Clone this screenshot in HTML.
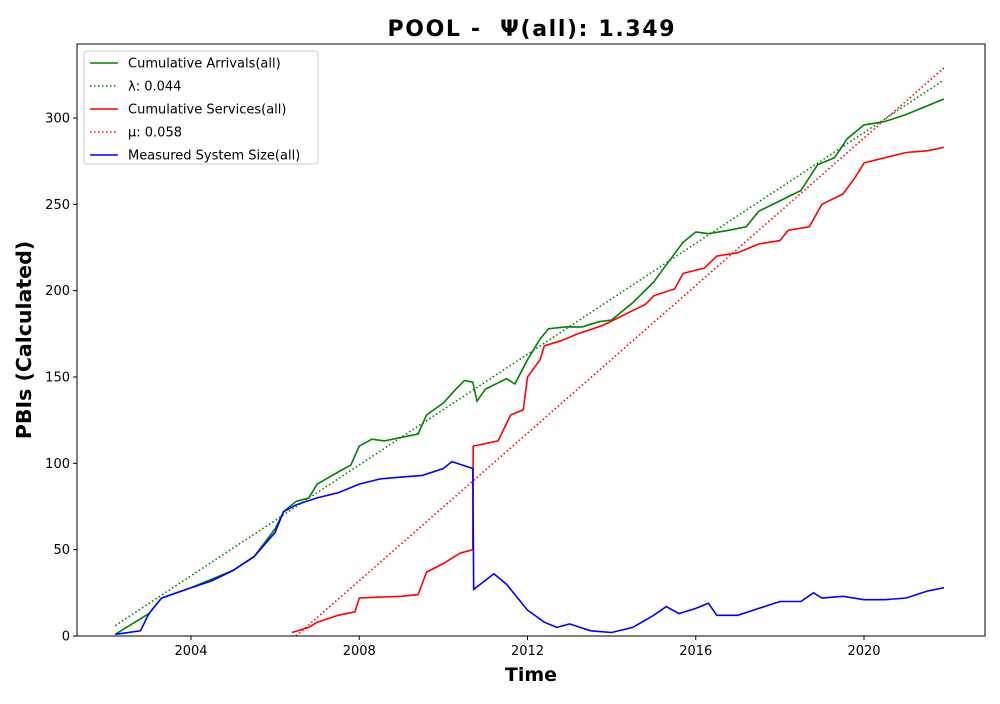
<!DOCTYPE html>
<html><head><meta charset="utf-8"><style>
body{margin:0;background:#fff;font-family:"DejaVu Sans","Liberation Sans",sans-serif}
</style></head><body>
<svg id="chart" width="1000" height="700" xmlns="http://www.w3.org/2000/svg" font-family="DejaVu Sans, Liberation Sans, sans-serif"></svg>
<script>
const arrYears=[2002.2,2003,2003.3,2004,2005,2005.5,2006,2006.2,2006.5,2006.8,2007,2007.5,2007.8,2008,2008.3,2008.6,2009,2009.4,2009.6,2010,2010.3,2010.5,2010.7,2010.8,2011,2011.5,2011.7,2012,2012.3,2012.5,2012.9,2013.3,2013.7,2014,2014.5,2015,2015.3,2015.7,2016,2016.3,2016.8,2017.2,2017.5,2018,2018.5,2018.9,2019.3,2019.6,2020,2020.5,2021,2021.5,2021.9];
const arrVals=[1,13,22,28,38,46,62,72,78,80,88,95,99,110,114,113,115,117,128,135,143,148,147,136,143,149,146,160,172,178,179,179,182,183,193,205,215,228,234,233,235,237,246,252,258,273,277,288,296,298,302,307,311];
const srvYears=[2006.4,2006.8,2007,2007.5,2007.9,2008,2009,2009.4,2009.6,2010,2010.4,2010.7,2010.71,2011.3,2011.6,2011.9,2012,2012.3,2012.4,2012.8,2013.2,2013.8,2014.3,2014.8,2015,2015.5,2015.7,2016.2,2016.5,2017,2017.5,2018,2018.2,2018.7,2019,2019.5,2019.8,2020,2020.5,2021,2021.5,2021.9];
const srvVals=[2,5,8,12,14,22,23,24,37,42,48,50,110,113,128,131,150,160,168,171,175,180,186,192,197,201,210,213,220,222,227,229,235,237,250,256,266,274,277,280,281,283];
const sysYears=[2002.2,2002.8,2003,2003.3,2004,2004.5,2005,2005.5,2006,2006.2,2006.5,2007,2007.5,2008,2008.5,2009,2009.5,2010,2010.2,2010.7,2010.72,2011.2,2011.5,2012,2012.4,2012.7,2013,2013.5,2014,2014.5,2015,2015.3,2015.6,2016,2016.3,2016.5,2017,2017.5,2018,2018.5,2018.8,2019,2019.5,2020,2020.5,2021,2021.5,2021.9];
const sysVals=[1,3,13,22,28,32,38,46,60,72,76,80,83,88,91,92,93,97,101,97,27,36,30,15,8,5,7,3,2,5,12,17,13,16,19,12,12,16,20,20,25,22,23,21,21,22,26,28];
const lambdaYears=[2002.2,2021.9];const lambdaVals=[6,322];
const muYears=[2006.5,2021.9];const muVals=[0,329];
const xTicks=[2004,2008,2012,2016,2020];
const yTicks=[0,50,100,150,200,250,300];
const L=77,R=985,T=44,B=636;
const X=v=>191+(v-2004)*42.0625;
const Y=v=>636-v*1.72667;
const svg=document.getElementById('chart');const NS='http://www.w3.org/2000/svg';
function add(tag,attrs,text){const e=document.createElementNS(NS,tag);for(const k in attrs)e.setAttribute(k,attrs[k]);if(text!==undefined)e.textContent=text;svg.appendChild(e);return e;}
function line(xs,ys,color,dash,name){const d=xs.map((x,i)=>(i?'L':'M')+X(x).toFixed(1)+','+Y(ys[i]).toFixed(1)).join('');const p=add('path',{d:d,fill:'none',stroke:color,'stroke-width':1.6});if(dash)p.setAttribute('stroke-dasharray','1.5,2.5');

}
let t=add('text',{x:531,y:36,'text-anchor':'middle','font-size':22,'font-weight':'bold','xml:space':'preserve'},'POOL -  Ψ(all): 1.349');
t.setAttribute('style','white-space:pre');
t.setAttribute('textLength','287');


line(lambdaYears,lambdaVals,'green',true,'lambda-line');
line(muYears,muVals,'red',true,'mu-line');
line(arrYears,arrVals,'green',false,'cumulative-arrivals-line');
line(srvYears,srvVals,'red',false,'cumulative-services-line');
line(sysYears,sysVals,'blue',false,'system-size-line');
let fr=add('rect',{x:L,y:T,width:R-L,height:B-T,fill:'none',stroke:'#000','stroke-width':1});


xTicks.forEach(v=>{add('line',{x1:X(v),x2:X(v),y1:B,y2:B+4,stroke:'#000'});const e=add('text',{x:X(v),y:B+19,'text-anchor':'middle','font-size':13},v);

});
yTicks.forEach(v=>{add('line',{x1:L-4,x2:L,y1:Y(v),y2:Y(v),stroke:'#000'});const e=add('text',{x:L-7,y:Y(v)+4.5,'text-anchor':'end','font-size':13},v);

});
let xt=add('text',{x:531,y:681,'text-anchor':'middle','font-size':19,'font-weight':'bold'},'Time');


let yt=add('text',{x:31,y:340,'text-anchor':'middle','font-size':20.5,'font-weight':'bold',transform:'rotate(-90 31 340)'},'PBIs (Calculated)');


let lg=add('rect',{x:84,y:51,width:234,height:113,fill:'#fff',stroke:'#ccc',rx:3});


const items=[['Cumulative Arrivals(all)','green',false],['λ: 0.044','green',true],['Cumulative Services(all)','red',false],['μ: 0.058','red',true],['Measured System Size(all)','blue',false]];
items.forEach((it,i)=>{const y=63+i*23;const l=add('line',{x1:90,x2:118,y1:y,y2:y,stroke:it[1],'stroke-width':1.6});if(it[2])l.setAttribute('stroke-dasharray','1.5,2.5');const e=add('text',{x:128,y:y+4.5,'font-size':13},it[0]);

});
</script>
</body></html>
